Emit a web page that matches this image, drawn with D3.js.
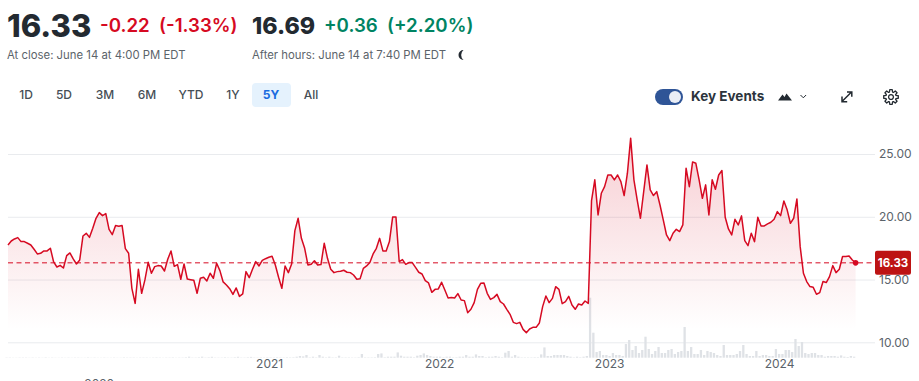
<!DOCTYPE html>
<html>
<head>
<meta charset="utf-8">
<script src="https://cdn.jsdelivr.net/npm/d3@7"></script>
<style>
    body { margin: 0; background: #fff; overflow: hidden; }
    text { font-family: Inter, "Noto Sans", sans-serif; }
    .axis text { font-size: 12px; fill: #5b636a; font-family: Inter, sans-serif; }
    .axis .domain { display: none; }
</style>
</head>
<body>
<svg id="chart" width="919" height="381"></svg>
<script>
// weekly closes
const prices = [
    17.75,18.07,18.23,18.34,18.02,18.02,17.89,17.75,17.41,17.04,
    17.09,17.28,17.28,17.49,16.40,16.00,16.13,15.92,16.90,17.12,
    16.64,16.24,16.56,18.47,18.68,18.36,19.08,19.88,20.33,20.09,
    20.25,19.00,18.58,19.30,19.24,19.30,17.46,17.09,14.30,13.10,
    15.82,13.90,14.97,16.37,15.50,16.03,16.11,16.08,15.68,16.61,
    17.28,16.05,16.19,15.02,16.24,15.04,14.99,14.94,13.90,15.10,
    15.18,14.89,15.50,15.10,16.30,15.71,14.81,14.57,14.27,13.82,
    14.33,13.66,13.85,15.63,15.15,15.82,16.43,16.08,16.53,16.66,
    16.77,16.85,16.16,15.18,14.30,16.08,15.55,16.24,18.90,19.88,
    18.28,17.49,16.16,16.21,16.50,16.16,16.19,17.89,16.69,15.82,
    15.55,15.63,15.66,15.74,15.58,15.55,15.36,15.02,15.07,15.89,
    16.08,16.35,17.04,17.49,18.28,17.28,17.28,18.02,19.99,19.99,
    16.43,16.59,16.21,16.35,16.35,15.97,15.58,15.44,14.91,14.73,
    13.98,14.22,14.25,14.78,14.17,13.53,13.56,13.53,13.88,13.37,
    13.32,12.36,12.63,13.16,14.22,14.70,14.73,13.90,13.42,13.56,
    13.82,13.24,13.05,12.63,12.23,11.59,11.49,11.59,11.03,10.77,
    11.06,11.19,11.19,11.54,12.84,13.69,13.16,13.50,14.43,14.22,
    13.08,13.24,13.66,12.97,12.63,13.05,12.97,13.29,13.10,
    21.29,22.94,20.15,21.87,22.40,23.33,23.33,22.94,23.33,22.80,
    21.69,23.47,26.26,22.94,21.34,19.88,22.00,24.13,22.14,21.69,
    22.00,20.94,19.75,18.55,18.10,18.69,19.00,18.82,19.35,23.87,
    22.40,24.37,24.26,22.94,21.47,22.54,20.15,22.94,22.19,23.33,
    23.68,19.96,19.03,18.55,19.80,19.35,
    20.07,18.10,17.70,18.69,18.02,19.96,19.27,19.27,19.43,19.56,
    19.80,20.41,20.09,21.26,20.55,19.48,19.88,21.42,17.62,15.50,
    14.84,14.44,14.38,13.83,13.96,14.84,14.76,15.23,16.11,15.55,
    15.82,16.83,16.83,16.88,16.56,16.33
];

// weekly volume, same order, in millions
const volumes = [
    .3,.3,.2,.2,.3,.3,.3,.2,.3,.2,
    .3,.2,.4,.2,.3,.2,.2,.3,.2,.3,
    .2,.3,.3,.2,.2,.4,.2,.3,.2,.2,
    .3,.2,.2,.3,.2,.2,.4,.3,.3,.3,
    .2,.3,.3,.3,.2,.3,.4,.3,.2,.3,
    .3,.4,.2,.3,.3,.5,1,.3,.3,.5,
    1,.3,.5,.9,.3,.3,.3,.5,.3,.3,
    .5,.9,.3,.3,.5,.8,.3,.3,.4,.3,
    .5,.4,.3,.5,.4,.3,.5,.4,.5,1,
    1.7,1.3,2.7,.4,1,.4,2.7,1,.4,1,
    .4,.4,2,.4,.4,.4,.3,.3,.5,3.7,
    .4,.4,.4,.5,3.7,4.3,.5,1,1,1,
    5.3,2,1,1,1,.5,2,2.7,4.3,2.7,
    1.7,1,1,1,.5,1,1,.4,.5,1,
    1,2.7,1,1,3.3,1.7,1.7,.5,1,1,
    1.7,1,.5,5,6.7,1,2.7,1,.4,.4,
    .4,.4,.5,.5,3.3,10.3,1.7,1.7,2.7,2.7,
    2.7,2.7,1.7,1,.4,1,.5,1,1.7,60,
    25,5.7,6.7,2.7,2.7,1.7,4.7,2.7,2.7,1.7,
    13.7,17.7,7.7,11.7,4.7,7.7,21,8.7,3.7,6.7,
    10.7,4.7,4.7,7.7,8.7,3.7,5.7,6.7,30.7,6.7,
    10.7,3.7,3.7,7.7,2.7,6.7,5.7,4.7,2.7,1.7,
    12.7,2.7,2.7,2.7,3.7,6.7,12.7,3.7,1.7,1.7,
    6.7,1.7,2.7,2.7,1.7,1.7,8.7,3.7,3.7,7.7,
    7.7,5.7,18.7,11.7,15.7,4.7,3.7,4.7,4.7,2.7,
    2.7,1,1.7,1.7,1.7,1,2.3,1,.7,1.7,1
];

const yTicks = [10, 15, 20, 25];
const yearTicks = [2020, 2021, 2022, 2023, 2024];
const rangeLabels = ["1D", "5D", "3M", "6M", "YTD", "1Y", "5Y", "All"];
const rangeCenters = [26, 64, 105, 147, 191, 233, 271, 311];
const lastClose = 16.33;

const red = "#d60a22", green = "#008463", ink = "#232a31", grey = "#5b636a";

let svg = d3.select("#chart");

// scales
let start = new Date(2019, 5, 17);
let dates = prices.map((d, i) => d3.timeWeek.offset(start, i));

let x = d3.scaleTime()
    .domain([dates[0], dates[dates.length - 1]])
    .range([8, 855.6]);

let y = d3.scaleLinear()
    .domain([10, 25])
    .range([342.3, 154]);

let yVol = d3.scaleLinear()
    .domain([0, 60])
    .range([357.7, 297.7]);

// header --------------------------------------------------------------
function label(txt, px, py, size, weight, color, anchor) {
    return svg.append("text")
        .attr("x", px)
        .attr("y", py)
        .attr("font-size", size)
        .attr("font-weight", weight)
        .attr("fill", color)
        .attr("text-anchor", anchor || "start")
        .text(txt);
}

label("16.33", 7, 37, 31, 800, ink);
label("-0.22", 100, 32, 18.7, 600, red);
label("(-1.33%)", 159, 32, 18.7, 600, red);
label("16.69", 252, 34, 23.2, 800, ink);
label("+0.36", 324, 32, 18.7, 600, green);
label("(+2.20%)", 387, 32, 18.7, 600, green);
label("At close: June 14 at 4:00 PM EDT", 7, 59, 11.35, 400, grey);
label("After hours: June 14 at 7:40 PM EDT", 252, 59, 11.35, 400, grey);

// moon
svg.append("path")
    .attr("d", "M463.5 50a5 5 0 1 0 0 10a6.5 6.5 0 0 1 0 -10z")
    .attr("fill", ink);

// range buttons
svg.append("rect")
    .attr("x", 252).attr("y", 83)
    .attr("width", 39).attr("height", 24)
    .attr("rx", 4)
    .attr("fill", "#e5f2fd");

svg.append("g").selectAll("text")
    .data(rangeLabels)
    .join("text")
    .attr("x", (d, i) => rangeCenters[i])
    .attr("y", 99)
    .attr("text-anchor", "middle")
    .attr("font-size", 12)
    .attr("font-weight", d => d === "5Y" ? 700 : 500)
    .attr("fill", d => d === "5Y" ? "#1a6ce0" : "#464e56")
    .text(d => d);

// key events toggle and icons
svg.append("rect")
    .attr("x", 655).attr("y", 89)
    .attr("width", 28).attr("height", 16)
    .attr("rx", 8)
    .attr("fill", "#2f5597");
svg.append("circle")
    .attr("cx", 675).attr("cy", 97).attr("r", 6)
    .attr("fill", "#e9edf5");
label("Key Events", 691, 101, 13.5, 700, "#2c343c");

svg.append("path")
    .attr("d", "M778 100.5l4.5 -6l2 2.5l2 -3.5l5.5 7z")
    .attr("fill", ink);
svg.append("path")
    .attr("d", "M800.5 95l2.8 2.8l2.8 -2.8")
    .attr("fill", "none")
    .attr("stroke", ink)
    .attr("stroke-width", 1);
svg.append("path")
    .attr("d", "M842 101.5l9.5 -9.5M847 92h4.8v4.8M842 96.5v5.2h5.2")
    .attr("fill", "none")
    .attr("stroke", ink)
    .attr("stroke-width", 1.5);

// gear
let gear = svg.append("g").attr("transform", "translate(891,97)");
gear.append("circle").attr("r", 2.4).attr("fill", "none").attr("stroke", ink).attr("stroke-width", 1.3);
gear.append("path")
    .attr("d", d3.range(8).map(i => {
        let a = i * Math.PI / 4, b = a + 0.3, c = a - 0.3;
        return (i ? "L" : "M") + (5.2 * Math.cos(c)) + " " + (5.2 * Math.sin(c))
            + "L" + (7.4 * Math.cos(a - 0.17)) + " " + (7.4 * Math.sin(a - 0.17))
            + "L" + (7.4 * Math.cos(a + 0.17)) + " " + (7.4 * Math.sin(a + 0.17))
            + "L" + (5.2 * Math.cos(b)) + " " + (5.2 * Math.sin(b));
    }).join("") + "Z")
    .attr("fill", "none")
    .attr("stroke", ink)
    .attr("stroke-width", 1.3)
    .attr("stroke-linejoin", "round");

// axes -----------------------------------------------------------------
let yAxis = svg.append("g")
    .attr("class", "axis")
    .attr("transform", "translate(875,0)")
    .call(d3.axisRight(y)
        .tickValues(yTicks)
        .tickSize(-867)
        .tickPadding(4)
        .tickFormat(d3.format(".2f")));
yAxis.selectAll("line").attr("stroke", "#e9ebee");

let xAxis = svg.append("g")
    .attr("class", "axis")
    .attr("transform", "translate(0,355)")
    .call(d3.axisBottom(x)
        .tickValues(yearTicks.map(d => new Date(d, 0, 1)))
        .tickSize(0)
        .tickPadding(4)
        .tickFormat(d3.timeFormat("%Y")));

// 2020 label sits a row lower and gets cut off by the window
xAxis.selectAll(".tick text")
    .attr("dx", -1.5)
    .attr("dy", d => d.getFullYear() === 2020 ? "2.4em" : "0.71em");

// volume bars
svg.append("g").selectAll("rect")
    .data(volumes)
    .join("rect")
    .attr("x", (d, i) => x(dates[i]) - 2.6)
    .attr("y", d => yVol(d))
    .attr("width", 2.3)
    .attr("height", d => yVol(0) - yVol(d))
    .attr("fill", "#dfe2e6");

// area + line
let grad = svg.append("defs").append("linearGradient")
    .attr("id", "fade")
    .attr("gradientUnits", "userSpaceOnUse")
    .attr("x1", 0).attr("x2", 0)
    .attr("y1", y(26.3)).attr("y2", y(11));
grad.append("stop").attr("offset", 0).attr("stop-color", red).attr("stop-opacity", 0.2);
grad.append("stop").attr("offset", 1).attr("stop-color", red).attr("stop-opacity", 0);

svg.append("path")
    .datum(prices)
    .attr("fill", "url(#fade)")
    .attr("d", d3.area()
        .x((d, i) => x(dates[i]))
        .y0(y(10))
        .y1(d => y(d)));

svg.append("line")
    .attr("x1", 8).attr("x2", 875)
    .attr("y1", y(lastClose)).attr("y2", y(lastClose))
    .attr("stroke", red)
    .attr("stroke-width", 1)
    .attr("stroke-dasharray", "5 3.5");

svg.append("path")
    .datum(prices)
    .attr("fill", "none")
    .attr("stroke", red)
    .attr("stroke-width", 1.5)
    .attr("stroke-linejoin", "round")
    .attr("d", d3.line()
        .x((d, i) => x(dates[i]))
        .y(d => y(d)));

svg.append("circle")
    .attr("cx", x(dates[dates.length - 1]))
    .attr("cy", y(lastClose))
    .attr("r", 2.8)
    .attr("fill", red);

// last price tag
svg.append("rect")
    .attr("x", 875).attr("y", y(lastClose) - 12)
    .attr("width", 36).attr("height", 24)
    .attr("rx", 2)
    .attr("fill", "#bd1313");
label(d3.format(".2f")(lastClose), 893, y(lastClose) + 4, 11.5, 700, "#fff", "middle");
</script>
</body>
</html>
